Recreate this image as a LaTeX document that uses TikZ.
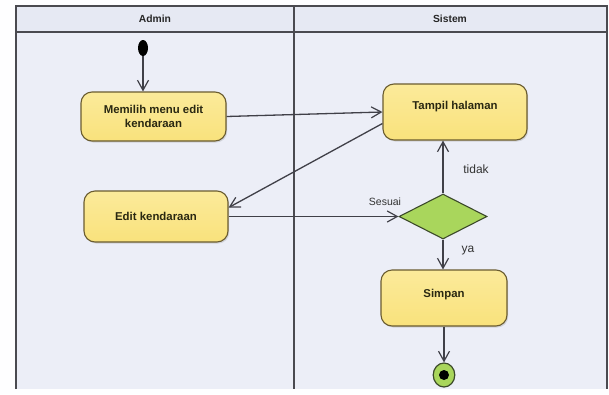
\documentclass[tikz,border=0pt]{standalone}
\usepackage{fontspec}
\setmainfont{Liberation Sans}
\usetikzlibrary{arrows.meta,shapes.geometric,shadows,calc}
\definecolor{lanebg}{HTML}{ECEEF7}
\definecolor{headbg}{HTML}{E6E9F3}
\definecolor{laneline}{HTML}{4A4A50}
\definecolor{actfill}{HTML}{F9E27C}
\definecolor{actfilltop}{HTML}{FBEA9A}
\definecolor{actline}{HTML}{6A5C30}
\definecolor{acttext}{HTML}{2A2812}
\definecolor{decfill}{HTML}{A9D65C}
\definecolor{decline}{HTML}{3C4A2A}
\definecolor{flow}{HTML}{404048}
\tikzset{
  activity/.style={rectangle, rounded corners=11pt, draw=actline, line width=1.1pt,
    top color=actfilltop, bottom color=actfill, text=acttext,
    font=\bfseries\fontsize{11.4}{13.5}\selectfont, align=center, inner sep=0pt,
    drop shadow={shadow xshift=1.2pt, shadow yshift=-1.5pt, opacity=0.25}},
  decision/.style={diamond, draw=decline, line width=1.1pt, fill=decfill, inner sep=0pt,
    minimum width=88pt, minimum height=45pt},
  flowline/.style={draw=flow, line width=1.3pt, -{Straight Barb[length=10pt,width=11pt,line width=1.2pt]}},
  guard/.style={font=\fontsize{10.5}{12}\selectfont, text=black!80, inner sep=0pt},
  lanehead/.style={font=\bfseries\fontsize{10.3}{12}\selectfont, text=black!85, inner sep=0pt}
}
\begin{document}
\begin{tikzpicture}[x=1pt,y=-1pt]
\useasboundingbox (0,0) rectangle (609,394);
\fill[white!97!lanebg] (0,0) rectangle (609,394);
% swimlane frame
\fill[lanebg] (16,6) rectangle (607,389);
\fill[headbg] (16,6) rectangle (607,32);
\draw[laneline, line width=1.2pt] (16,389) -- (16,6) -- (607,6) -- (607,389);
\draw[laneline, line width=1.2pt] (16,32) -- (607,32);
\draw[laneline, line width=1.2pt] (294,6) -- (294,389);
\node[lanehead] (hadmin) at (155,19) {Admin};
\node[lanehead] (hsistem) at (450,19) {Sistem};

% start and end
\node[ellipse, fill=black, minimum width=10pt, minimum height=16pt, inner sep=0pt] (start) at (143,48) {};
\node[circle, draw=decline, line width=1.2pt, fill=decfill, minimum size=24pt, inner sep=0pt,
      xscale=0.9] (final) at (444,375) {};
\node[circle, fill=black, minimum size=10pt, inner sep=0pt] (finaldot) at (final) {};

% activities
\node[activity, minimum width=145pt, minimum height=49pt] (memilih) at (153.5,116.5) {Memilih menu edit\\kendaraan};
\node[activity, minimum width=144pt, minimum height=56pt] (tampil) at (455,112) {\raisebox{14pt}{Tampil halaman}};
\node[activity, minimum width=144pt, minimum height=51pt] (edit) at (156,216.5) {Edit kendaraan};
\node[decision] (cek) at (443,216.5) {};
\node[activity, minimum width=126pt, minimum height=56pt] (simpan) at (444,298) {\raisebox{10pt}{Simpan}};

% flows
\draw[flowline] (start) -- (start |- memilih.north);
\draw[flowline] (memilih.east) -- (tampil.west);
\draw[flowline] (tampil.189) -- (edit.7);
\draw[flowline] (edit.east) -- (cek.west);
\draw[flowline] (cek.north) -- (cek.north |- tampil.south);
\draw[flowline] (cek.south) -- (cek.south |- simpan.north);
\draw[flowline] (simpan.south) -- (final.north);

% guards
\node[guard] (lsesuai) at (385,202) {Sesuai};
\node[guard, font=\fontsize{12}{14}\selectfont] (ltidak) at (476,169) {tidak};
\node[guard, font=\fontsize{12}{14}\selectfont] (lya) at (468,251) {ya};
\end{tikzpicture}
\end{document}
